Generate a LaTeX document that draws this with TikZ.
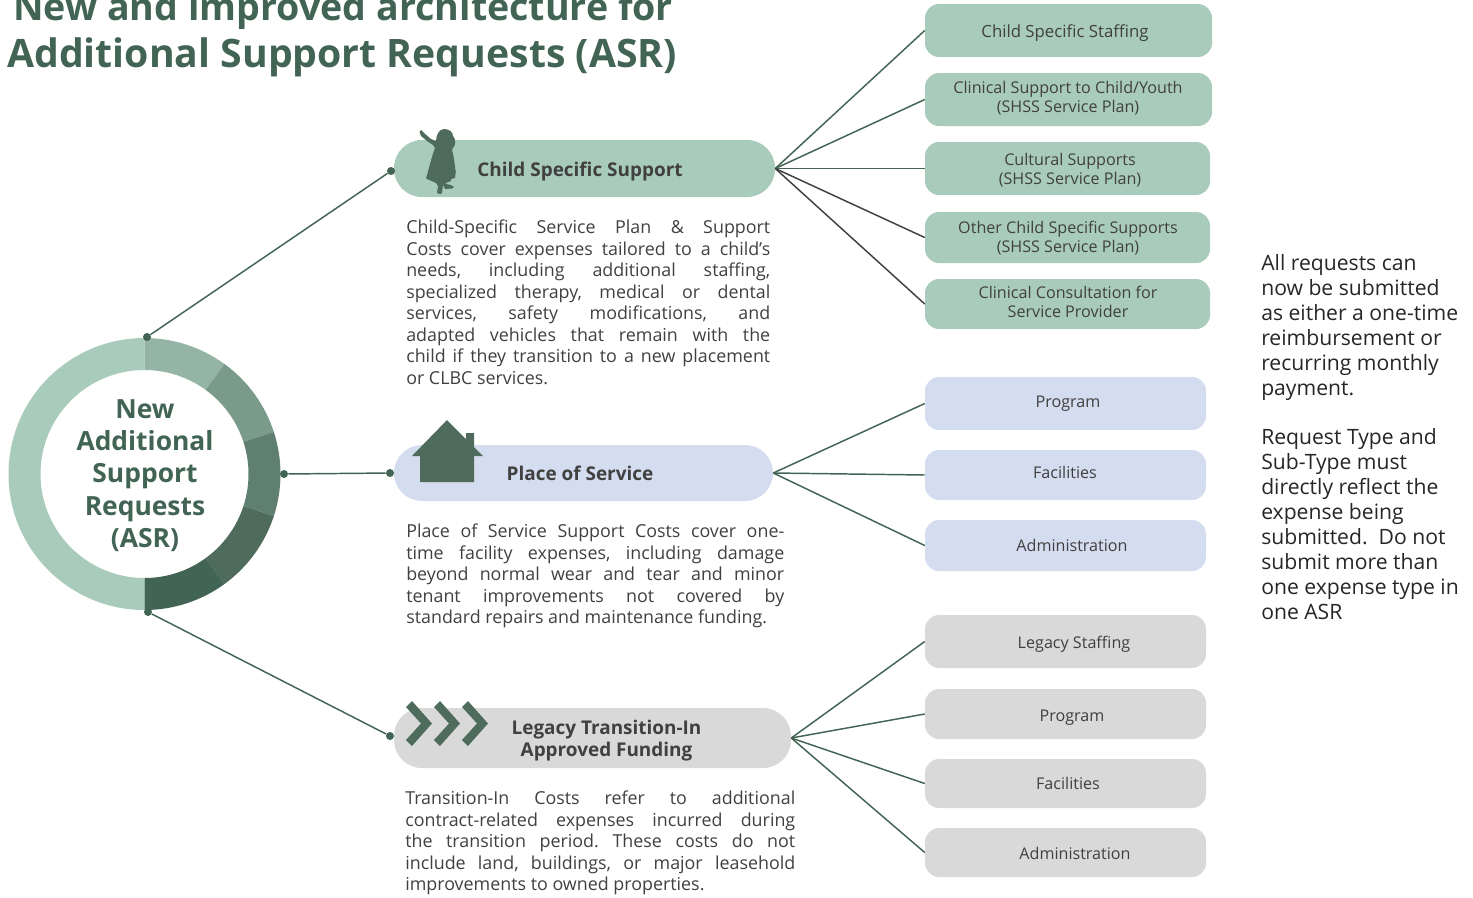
\documentclass[tikz,border=0pt]{standalone}
\usepackage{fontspec}
\usetikzlibrary{calc}
\setmainfont{Open Sans}
\AtBeginDocument{\frenchspacing}
\definecolor{gA}{HTML}{A9CBBC}
\definecolor{gB}{HTML}{94B4A6}
\definecolor{gC}{HTML}{7A9A8A}
\definecolor{gD}{HTML}{5F7F70}
\definecolor{gE}{HTML}{4F6B5C}
\definecolor{gF}{HTML}{426454}
\definecolor{blu}{HTML}{D4DCEF}
\definecolor{gry}{HTML}{D9D9D9}
\definecolor{ink}{HTML}{404040}
\tikzset{
  x=0.75pt,y=-0.75pt,
  box/.style={draw=none,inner sep=0pt,rounded corners=10.5pt},
  pill/.style={draw=none,inner sep=0pt,rounded corners=21pt},
  boxlabel/.style={inner sep=0pt,align=center,text=ink,font=\fontsize{12.1}{14.2}\selectfont},
  pilllabel/.style={inner sep=0pt,align=center,text=ink,font=\fontsize{14.2}{16.5}\selectfont\bfseries},
  bodytext/.style={inner sep=0pt,anchor=north west,text=ink,align=justify,font=\fontsize{13.4}{16.1}\selectfont,
    execute at begin node={\tolerance=10000\hyphenpenalty=10000\exhyphenpenalty=10000\relax}},
  titletext/.style={inner sep=0pt,anchor=base west,text=gF},
  dot/.style={circle,fill=gF,inner sep=0pt,minimum size=6pt},
  link/.style={draw=gF,line width=1.1pt},
  linkdark/.style={draw=ink,line width=1.1pt},
  icon/.style={fill=gE,draw=none},
}
\newcommand{\rbox}[6]{%
  \node[box,fill=#6,minimum width=(#4-#2)*0.75pt,minimum height=(#5-#3)*0.75pt] (#1) at ({(#2+#4)/2},{(#3+#5)/2}) {};
}
\begin{document}
\begin{tikzpicture}
\useasboundingbox (0,0) rectangle (1473,897);
\clip (0,0) rectangle (1473,897);
% ring
\coordinate (ringc) at (144.5,474);
\fill[gA] (144.5,338) arc[start angle=-90,end angle=-270,x radius=102pt,y radius=-102pt] -- (144.5,578) arc[start angle=90,end angle=270,x radius=78pt,y radius=-78pt] -- cycle;
\foreach \i/\c in {0/gB,1/gC,2/gD,3/gE,4/gF}{
  \pgfmathsetmacro\a{-90+36*\i}
  \pgfmathsetmacro\b{-90+36*(\i+1)}
  \fill[\c] ($(ringc)+(\a:136)$) arc[start angle=\a,delta angle=36,x radius=102pt,y radius=-102pt] -- ($(ringc)+(\b:104)$) arc[start angle=\b,delta angle=-36,x radius=78pt,y radius=-78pt] -- cycle;
}
\node[inner sep=0pt,align=center,text=gF,font=\fontsize{19.8}{24.3}\selectfont\bfseries] (ringtext) at (145,475.5) {New\\Additional\\Support\\Requests\\(ASR)};
% title
\node[titletext,font=\fontsize{28.2}{28.5}\selectfont\bfseries] (title1) at (13,20) {New and improved architecture for};
\node[titletext,font=\fontsize{29.4}{28.5}\selectfont\bfseries] (title2) at (7,67) {Additional Support Requests (ASR)};
% pills
\node[pill,fill=gA,minimum width=285.75pt,minimum height=42.75pt] (pA) at (584.5,168.5) {};
\node[pill,fill=blu,minimum width=284.25pt,minimum height=42pt] (pB) at (583.5,473) {};
\node[pill,fill=gry,minimum width=297.75pt,minimum height=45pt] (pC) at (592.5,738) {};
\node[pilllabel] (tA) at (580,172) {Child Specific Support};
\node[pilllabel] (tB) at (580,473) {Place of Service};
\node[pilllabel] (tC) at (606.5,740.5) {Legacy Transition-In\\Approved Funding};
% right boxes
\rbox{a1}{925}{4}{1212}{57}{gA}
\rbox{a2}{925}{73}{1212}{126}{gA}
\rbox{a3}{925}{142}{1210}{195}{gA}
\rbox{a4}{925}{212}{1210}{263}{gA}
\rbox{a5}{925}{279}{1210}{329}{gA}
\rbox{b1}{925}{377}{1206}{430}{blu}
\rbox{b2}{925}{450}{1206}{500}{blu}
\rbox{b3}{925}{520}{1206}{571}{blu}
\rbox{c1}{925}{615}{1206}{668}{gry}
\rbox{c2}{925}{689}{1206}{739}{gry}
\rbox{c3}{925}{759}{1206}{808}{gry}
\rbox{c4}{925}{828}{1206}{877}{gry}
\node[boxlabel,font=\fontsize{12.6}{14.2}\selectfont] (la1) at (1065,33) {Child Specific Staffing};
\node[boxlabel] (la2) at (1068,98) {Clinical Support to Child/Youth\\(SHSS Service Plan)};
\node[boxlabel] (la3) at (1070,170) {Cultural Supports\\(SHSS Service Plan)};
\node[boxlabel] (la4) at (1068,238) {Other Child Specific Supports\\(SHSS Service Plan)};
\node[boxlabel] (la5) at (1068,302) {Clinical Consultation for\\Service Provider};
\node[boxlabel] (lb1) at (1068,404) {Program};
\node[boxlabel] (lb2) at (1065,472) {Facilities};
\node[boxlabel] (lb3) at (1072,545) {Administration};
\node[boxlabel] (lc1) at (1074,644) {Legacy Staffing};
\node[boxlabel] (lc2) at (1072,718) {Program};
\node[boxlabel] (lc3) at (1068,783) {Facilities};
\node[boxlabel] (lc4) at (1075,853) {Administration};
% dots
\node[dot] (d1) at (147,337) {};
\node[dot] (d2) at (284,474) {};
\node[dot] (d3) at (148,612) {};
\node[dot] (e1) at (391,171) {};
\node[dot] (e2) at (390,473) {};
\node[dot] (e3) at (390,736) {};
\draw[link] (d1) -- (e1);
\draw[link] (d2) -- (e2);
\draw[link] (d3) -- (e3);
% fan connectors
\foreach \t in {a1,a2,a3} \draw[link] (pA.east) -- (\t.west);
\foreach \t in {a4,a5} \draw[linkdark] (pA.east) -- (\t.west);
\foreach \t in {b1,b2,b3} \draw[link] (pB.east) -- (\t.west);
\foreach \t in {c1,c2,c3,c4} \draw[link] (pC.east) -- (\t.west);
% child icon
\fill[icon] (419.5,132) -- (421,130) -- (424,133) -- (431,139) -- (436,141)
  .. controls (436,134) and (440,129) .. (444,129)
  .. controls (449,129) and (453,132) .. (453,136)
  .. controls (456,139) and (456,145) .. (453,148)
  -- (452,150) .. controls (454,157) and (455,165) .. (455.5,172) -- (456,170) -- (455,178)
  -- (451,179) -- (451,181)
  -- (446,183) -- (446,184) -- (451,185) -- (454,187) -- (452,188.5) -- (445,189) -- (443,185) -- (442,193) -- (440,194) -- (437,193) -- (438,186) -- (436,183) -- (426,178.5)
  .. controls (430,165) and (432,155) .. (435,148) -- (433,145) -- (427,141) -- (421,136) -- cycle;
% house
\fill[icon] (447,420) -- (466,439) -- (466,433) -- (474,433) -- (474,447) -- (483,456) -- (474,456) -- (474,482) -- (420,482) -- (420,456) -- (412,456) -- cycle;
% chevrons
\foreach \s in {0,28,56}
  \fill[icon,shift={(\s,0)}] (412,701) -- (432,723.5) -- (412,746) -- (406,740) -- (421,723.5) -- (406,707) -- cycle;
% body text
\node[bodytext,text width=273pt] (bA) at (406,220) {Child-Specific Service Plan \& Support\linebreak Costs cover expenses tailored to a child’s\linebreak needs, including additional staffing,\linebreak specialized therapy, medical or dental\linebreak services, safety modifications, and\linebreak adapted vehicles that remain with the\linebreak child if they transition to a new placement\linebreak or CLBC services.};
\node[bodytext,text width=283.5pt] (bB) at (406,524) {Place of Service Support Costs cover one-\linebreak time facility expenses, including damage\linebreak beyond normal wear and tear and minor\linebreak tenant improvements not covered by\linebreak standard repairs and maintenance funding.};
\node[bodytext,text width=292.5pt] (bC) at (405,791) {Transition-In Costs refer to additional\linebreak contract-related expenses incurred during\linebreak the transition period. These costs do not\linebreak include land, buildings, or major leasehold\linebreak improvements to owned properties.};
% side note
\node[inner sep=0pt,anchor=north west,text=black!85,align=left,font=\fontsize{15.85}{18.7}\selectfont] (note) at (1261,254) {All requests can\\now be submitted\\as either a one-time\\reimbursement or\\recurring monthly\\payment.\\[18.7pt]Request Type and\\Sub-Type must\\directly reflect the\\expense being\\submitted.~ Do not\\submit more than\\one expense type in\\one ASR};
\end{tikzpicture}
\end{document}
